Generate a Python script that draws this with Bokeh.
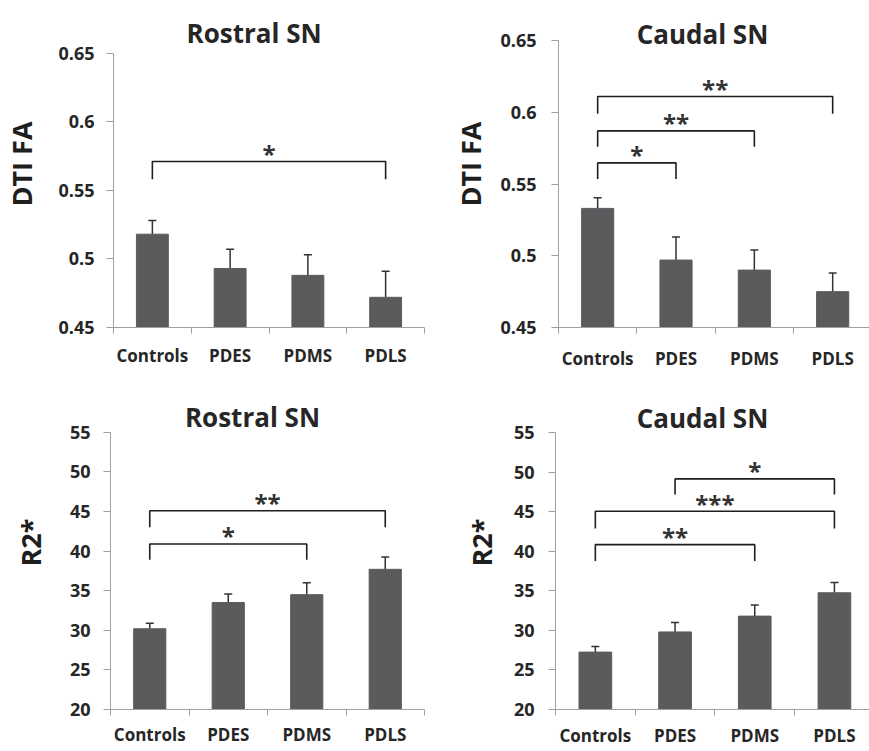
from bokeh.plotting import figure
from bokeh.models import Range1d, FixedTicker, Whisker, TeeHead, ColumnDataSource
from bokeh.layouts import column, row
from bokeh.embed import file_html
from bokeh.resources import INLINE
from bokeh.core.properties import value

# ---------------- data ----------------
categories = ["Controls", "PDES", "PDMS", "PDLS"]

fa_ticks = [0.45, 0.5, 0.55, 0.6, 0.65]
fa_tick_labels = ["0.45", "0.5", "0.55", "0.6", "0.65"]
r2_ticks = [20, 25, 30, 35, 40, 45, 50, 55]
r2_tick_labels = ["20", "25", "30", "35", "40", "45", "50", "55"]

rostral_fa_mean = [0.518, 0.493, 0.488, 0.472]
rostral_fa_err = [0.010, 0.014, 0.015, 0.019]
caudal_fa_mean = [0.533, 0.497, 0.490, 0.475]
caudal_fa_err = [0.0075, 0.016, 0.014, 0.013]
rostral_r2_mean = [30.2, 33.5, 34.5, 37.7]
rostral_r2_err = [0.7, 1.1, 1.5, 1.55]
caudal_r2_mean = [27.25, 29.8, 31.8, 34.75]
caudal_r2_err = [0.72, 1.2, 1.4, 1.3]

# significance brackets: (from index, to index, bracket level, leg end, label)
rostral_fa_sig = [(0, 3, 0.571, 0.558, "*")]
caudal_fa_sig = [(0, 1, 0.5647, 0.5535, "*"),
                 (0, 2, 0.587, 0.576, "**"),
                 (0, 3, 0.611, 0.599, "**")]
rostral_r2_sig = [(0, 2, 40.9, 38.9, "*"),
                  (0, 3, 45.1, 43.0, "**")]
caudal_r2_sig = [(0, 2, 40.83, 38.77, "**"),
                 (0, 3, 45.05, 42.86, "***"),
                 (1, 3, 49.14, 47.16, "*")]

FONT = "Open Sans"
TXT = "#262626"
AX = "#a0a0a0"
BAR = "#5b5b5e"


def panel(title, ylabel, means, errs, yticks, ylabels, sig, g):
    # g: layout geometry in page pixels
    y0, y1 = yticks[0], yticks[-1]
    frame_h = g["fb"] - g["ft"]
    upp = (y1 - y0) / (g["fb"] - g["at"])
    y_end = y1 + (g["at"] - g["ft"]) * upp
    frame_w = g["w"] - g["l"] - g["r"]
    upx = g["xend"] / frame_w
    fx0 = g["fx"] + g["l"]

    p = figure(width=g["w"], height=g["h"], x_range=Range1d(0, g["xend"]),
               y_range=Range1d(y0, y_end), output_backend="svg",
               toolbar_location=None, title_location=None,
               min_border_left=g["l"], min_border_right=g["r"],
               min_border_top=0, min_border_bottom=g["h"] - frame_h)
    p.outline_line_color = None
    p.grid.visible = False
    p.background_fill_color = "white"
    p.border_fill_color = "white"

    xs = [i + 0.5 for i in range(len(categories))]
    src = ColumnDataSource(dict(x=xs, top=means,
                                up=[m + e for m, e in zip(means, errs)]))
    p.vbar(x="x", top="top", bottom=y0, width=0.41, source=src,
           fill_color=BAR, line_color=BAR)
    p.add_layout(Whisker(source=src, base="x", lower="top", upper="up",
                         dimension="height", line_color="#333333",
                         line_width=1.5, lower_head=None,
                         upper_head=TeeHead(size=8, line_color="#333333",
                                            line_width=1.5)))

    bx, by, tx, ty, tt = [], [], [], [], []
    for a, b, lev, leg, lab in sig:
        bx.append([xs[a], xs[a], xs[b], xs[b]])
        by.append([leg, lev, lev, leg])
        tx.append((xs[a] + xs[b]) / 2)
        ty.append(lev)
        tt.append(lab)
    p.multi_line(xs=bx, ys=by, line_color="#1e1e1e", line_width=1.6)
    p.text(x=tx, y=ty, text=tt, text_align="center", text_baseline="middle",
           y_offset=-8, text_font=value(FONT), text_font_size="24px",
           text_font_style="bold", text_color="#333333")

    # panel title, placed above the top tick inside the (extended) frame
    p.text(x=[(g["tx"] - fx0) * upx], y=[y0 + (g["fb"] - g["ty"]) * upp],
           text=[title], text_align="center", text_baseline="alphabetic",
           text_font=value(FONT), text_font_size="26px",
           text_font_style="bold", text_color=TXT)

    # y axis
    ya = p.yaxis[0]
    ya.bounds = (y0, y1)
    ya.ticker = FixedTicker(ticks=yticks)
    ya.major_label_overrides = {t: s for t, s in zip(yticks, ylabels)}
    ya.minor_tick_line_color = None
    ya.axis_line_color = AX
    ya.major_tick_line_color = AX
    ya.major_tick_out = 7
    ya.major_tick_in = 0
    ya.major_label_standoff = g["yst"]
    ya.major_label_text_font = FONT
    ya.major_label_text_font_size = "18px"
    ya.major_label_text_font_style = "bold"
    ya.major_label_text_color = TXT
    ya.axis_label = ylabel
    ya.axis_label_text_font = FONT
    ya.axis_label_text_font_size = "27px"
    ya.axis_label_text_font_style = "bold"
    ya.axis_label_text_color = "#1e1e1e"
    ya.axis_label_standoff = g["lst"]

    # x axis: labels at centres, ticks at boundaries
    xa = p.xaxis[0]
    xa.ticker = FixedTicker(ticks=xs, minor_ticks=list(range(len(categories) + 1)))
    xa.major_label_overrides = {x: c for x, c in zip(xs, categories)}
    xa.axis_line_color = AX
    xa.major_tick_line_color = None
    xa.major_tick_out = 6
    xa.minor_tick_line_color = AX
    xa.minor_tick_out = 6
    xa.minor_tick_in = 0
    xa.major_label_standoff = g["xst"]
    xa.major_label_text_font = FONT
    xa.major_label_text_font_size = "17px"
    xa.major_label_text_font_style = "bold"
    xa.major_label_text_color = TXT
    return p


# page-pixel geometry of each panel
p1 = panel("Rostral SN", "DTI FA", rostral_fa_mean, rostral_fa_err, fa_ticks,
           fa_tick_labels, rostral_fa_sig,
           dict(fx=0, w=434, l=110, r=10, xend=4.0, h=375, ft=0, fb=330,
                at=53, tx=252, ty=33, yst=12, lst=15, xst=10))
p2 = panel("Caudal SN", "DTI FA", caudal_fa_mean, caudal_fa_err, fa_ticks,
           fa_tick_labels, caudal_fa_sig,
           dict(fx=434, w=435, l=124, r=0, xend=3.97, h=375, ft=0, fb=327,
                at=40, tx=702, ty=33, yst=15, lst=8, xst=13))
p3 = panel("Rostral SN", "R2*", rostral_r2_mean, rostral_r2_err, r2_ticks,
           r2_tick_labels, rostral_r2_sig,
           dict(fx=0, w=434, l=110, r=10, xend=4.0, h=376, ft=375, fb=710,
                at=432, tx=252, ty=417, yst=13, lst=18, xst=7))
p4 = panel("Caudal SN", "R2*", caudal_r2_mean, caudal_r2_err, r2_ticks,
           r2_tick_labels, caudal_r2_sig,
           dict(fx=434, w=435, l=121, r=0, xend=3.94, h=376, ft=375, fb=709,
                at=432, tx=702, ty=417, yst=14, lst=11, xst=8))

layout = column(row(p1, p2), row(p3, p4))
open("out.html", "w").write(file_html(layout, INLINE))
